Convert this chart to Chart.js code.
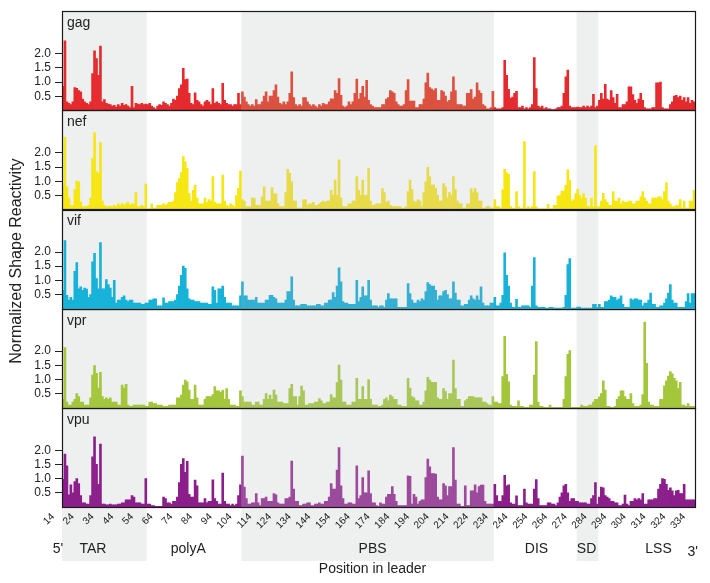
<!DOCTYPE html>
<html><head><meta charset="utf-8">
<script src="https://cdn.jsdelivr.net/npm/chart.js@4.4.1/dist/chart.umd.min.js"></script>
<style>html,body{margin:0;padding:0;background:#fff}canvas{display:block}</style>
</head><body>
<canvas id="c" width="710" height="583"></canvas>
<script>
// ---------- data ----------
const START = 14, END = 334;
const tickLabels = [14,24,34,44,54,64,74,84,94,104,114,124,134,144,154,164,174,184,194,204,214,224,234,244,254,264,274,284,294,304,314,324,334];
const yTickValues = [0.5, 1.0, 1.5, 2.0];
const panelNames = ['gag','nef','vif','vpr','vpu'];

const gag = [
0.85,2.45,0.3,0.25,0.2,0.3,0.8,0.78,0.7,0.65,
0.4,0.3,0.25,0.2,0.3,1.3,2.1,1.83,1.24,2.27,
0.3,0.38,0.25,0.22,0.2,0.15,0.18,0.12,0.2,0.15,
0.25,0.18,0.2,0.15,0.1,0.85,0.1,0.25,0.22,0.2,
0.25,0.2,0.22,0.2,0.25,0.15,0.1,0.05,0.15,0.2,
0.18,0.3,0.25,0.2,0.15,0.25,0.4,0.35,0.5,0.77,
0.9,1.48,1.09,1.1,0.6,0.25,0.2,0.62,0.35,0.3,
0.2,0.15,0.3,0.35,0.3,0.2,0.77,0.25,0.3,0.25,
0.2,0.95,0.35,0.25,0.2,0.2,0.15,0.2,0.2,0.6,
0.2,0.65,0.47,0.3,0.2,0.15,0.2,0.15,0.38,0.2,
0.2,0.3,0.5,0.65,0.3,0.5,0.5,0.7,0.9,0.47,
0.25,0.2,0.3,0.2,0.3,0.6,1.36,0.45,0.2,0.15,
0.2,0.15,0.45,0.45,0.3,0.2,0.15,0.2,0.15,0.1,
0.2,0.15,0.25,0.2,0.2,0.3,0.41,0.4,0.7,0.6,
1.12,0.53,0.15,0.1,0.15,0.3,0.2,0.3,0.6,1.1,
0.4,0.6,0.85,0.47,1.06,0.35,0.2,0.15,0.1,0.1,
0.1,0.1,0.2,0.2,0.4,0.45,0.7,0.65,0.6,0.3,
0.2,0.15,0.15,0.2,0.7,1.09,0.33,0.33,0.33,0.1,
0.1,0.2,0.2,0.4,0.97,1.32,0.8,0.75,0.7,0.77,
0.35,0.35,0.7,0.65,0.5,0.3,0.35,0.65,1.18,0.7,
0.2,0.2,0.2,0.15,0.15,0.6,0.6,0.73,0.4,0.47,
0.97,0.7,0.6,0.2,0.15,0.05,0.05,0.1,0.67,0.1,
0.05,0.05,0.05,0.1,1.77,1.24,0.74,0.43,0.47,0.6,
0.67,0.1,0.1,0.15,0.05,0.1,0.05,0.1,0.2,1.86,
0.77,0.15,0.1,0.15,0.05,0.1,0.05,0.05,0.03,0.03,
0.05,0.1,0.1,0.15,0.6,1.18,1.42,0.15,0.1,0.1,
0.1,0.12,0.1,0.1,0.15,0.1,0.15,0.1,0.15,0.57,
0.1,0.15,0.35,0.6,0.4,0.92,0.4,0.35,0.7,0.45,
0.25,0.57,0.1,0.1,0.2,0.2,0.3,0.83,0.83,0.56,
0.35,0.25,0.4,0.6,0.35,0.1,0.05,0.05,0.05,0.1,
0.1,0.97,0.97,1.0,0.1,0.05,0.05,0.05,0.2,0.3,
0.5,0.53,0.45,0.5,0.35,0.45,0.3,0.45,0.25,0.35,
0.3];

const nef = [
0.83,2.55,0.8,0.4,0.15,0.15,0.7,1.0,0.98,0.27,
0.1,0.1,0.1,0.15,0.4,1.8,2.72,1.33,1.28,2.36,
0.3,0.15,0.1,0.1,0.12,0.1,0.15,0.1,0.2,0.15,
0.2,0.15,0.2,0.25,0.15,0.2,0.2,0.6,0.1,0.1,
0.15,0.1,0.9,0.02,0.02,0.2,0.05,0.05,0.15,0.15,
0.15,0.2,0.15,0.2,0.25,0.25,0.3,0.6,0.95,1.1,
1.3,1.87,1.69,1.45,0.57,0.3,0.68,0.86,0.4,0.2,
0.2,0.2,0.4,0.25,0.35,0.3,1.16,0.25,0.2,0.2,
0.2,1.22,0.3,0.15,0.1,0.2,0.15,0.1,0.5,0.75,
1.36,0.35,0.3,0.1,0.1,0.1,0.4,0.4,0.15,0.15,
0.15,0.45,0.8,0.3,0.3,0.3,0.77,0.55,0.55,0.2,
0.1,0.1,0.1,0.6,1.42,1.28,0.98,0.3,0.3,0.05,
0.05,0.05,0.35,0.35,0.15,0.2,0.2,0.25,0.15,0.15,
0.2,0.25,0.3,0.25,0.3,0.3,0.68,0.5,1.04,0.5,
1.75,0.4,0.1,0.1,0.1,0.2,0.2,0.3,0.3,1.16,
0.68,0.5,1.04,0.5,0.5,1.45,0.3,0.15,0.15,0.2,
0.2,0.2,0.74,0.6,0.25,0.3,0.15,0.1,0.1,0.1,
0.1,0.1,0.05,0.05,0.1,0.63,1.04,0.7,0.3,0.25,
0.35,0.3,0.1,0.6,0.98,1.49,1.16,0.86,0.86,0.75,
0.5,0.3,0.3,0.92,0.8,0.4,0.6,0.5,1.16,0.7,
0.3,0.2,0.2,0.05,0.05,0.2,0.2,0.74,0.6,0.74,
0.59,0.3,0.3,0.05,0.05,0.1,0.1,0.05,0.05,0.35,
0.1,0.1,0.05,0.7,1.42,1.3,1.24,0.1,0.05,0.05,
0.63,0.1,0.05,0.05,2.4,0.05,0.1,0.05,0.1,1.34,
0.1,0.02,0.02,0.02,0.02,0.02,0.18,0.02,0.02,0.15,
0.15,0.47,0.5,0.65,0.65,0.86,1.4,1.04,0.3,0.35,
0.55,0.72,0.5,0.4,0.55,0.4,0.1,0.1,0.4,0.1,
2.25,0.1,0.1,0.3,0.57,0.35,0.25,0.15,0.15,0.63,
0.3,0.3,0.4,0.2,0.3,0.25,0.25,0.3,0.3,0.2,
0.2,0.3,0.3,0.45,0.63,0.4,0.3,0.2,0.2,0.4,
0.4,0.4,0.45,0.45,0.35,0.63,0.95,0.3,0.2,0.1,
0.1,0.15,0.15,0.35,0.05,0.3,0.05,0.05,0.3,0.3,
0.68];

const vif = [
0.65,2.4,0.47,0.3,0.4,0.3,1.32,1.63,0.7,0.77,
0.65,0.73,0.69,0.4,0.5,1.65,1.95,1.06,0.7,2.33,
0.7,0.7,1.03,0.85,0.73,0.4,1.0,0.2,0.3,0.3,
0.4,0.45,0.3,0.25,0.3,0.3,0.2,0.2,0.2,0.2,
0.15,0.15,0.2,0.2,0.3,0.3,0.35,0.35,0.1,0.1,
0.1,0.38,0.2,0.2,0.25,0.25,0.25,0.3,0.5,0.8,
1.18,1.5,1.42,0.7,0.35,0.3,0.3,0.25,0.25,0.25,
0.2,0.2,0.2,0.2,0.15,0.15,0.77,0.65,0.2,0.7,
0.7,0.8,0.4,0.2,0.2,0.2,0.1,0.1,0.1,0.1,
0.45,0.95,0.45,0.45,0.3,0.3,0.3,0.3,0.4,0.2,
0.2,0.2,0.2,0.3,0.3,0.47,0.47,0.4,0.35,0.2,
0.2,0.2,0.2,0.3,0.6,0.6,1.12,0.3,0.1,0.1,
0.1,0.15,0.15,0.15,0.1,0.1,0.1,0.1,0.1,0.15,
0.15,0.1,0.1,0.2,0.2,0.3,0.3,0.57,0.4,0.8,
1.44,0.95,0.25,0.2,0.2,0.15,0.15,0.15,0.15,1.0,
0.25,0.4,0.77,0.45,0.45,1.0,0.3,0.1,0.1,0.1,
0.05,0.1,0.1,0.05,0.3,0.53,0.35,0.35,0.35,0.35,
0.05,0.05,0.05,0.05,0.05,0.89,0.53,0.3,0.2,0.2,
0.3,0.25,0.35,0.3,0.6,0.92,0.85,0.8,0.8,0.65,
0.3,0.45,0.45,0.6,0.65,0.5,0.35,0.35,0.95,0.55,
0.3,0.3,0.1,0.1,0.15,0.15,0.3,0.45,0.35,0.3,
0.45,0.3,0.77,0.2,0.1,0.1,0.1,0.2,0.2,0.4,
0.1,0.1,0.2,0.47,1.97,1.18,0.8,0.2,0.05,0.05,
0.33,0.05,0.05,0.1,0.1,0.1,0.1,0.05,0.8,1.8,
0.1,0.05,0.05,0.05,0.05,0.02,0.02,0.05,0.05,0.02,
0.02,0.02,0.02,0.02,0.05,0.47,1.56,1.77,0.02,0.02,
0.02,0.06,0.06,0.02,0.02,0.02,0.02,0.02,0.02,0.15,
0.15,0.05,0.15,0.05,0.05,0.25,0.25,0.3,0.45,0.4,
0.4,0.3,0.35,0.45,0.15,0.05,0.05,0.05,0.35,0.3,
0.35,0.35,0.3,0.3,0.1,0.2,0.2,0.3,0.55,0.15,
0.15,0.05,0.05,0.1,0.1,0.2,0.35,0.55,0.85,0.3,
0.2,0.2,0.05,0.05,0.05,0.05,0.25,0.53,0.2,0.53,
0.53];

const vpr = [
0.3,2.13,0.2,0.1,0.1,0.2,0.3,0.5,0.4,0.2,
0.2,0.1,0.1,0.1,0.35,1.16,1.49,1.22,0.7,1.25,
0.4,0.3,0.35,0.3,0.35,0.2,0.2,0.2,0.1,0.1,
0.8,0.7,0.83,0.1,0.05,0.05,0.1,0.1,0.1,0.1,
0.1,0.1,0.05,0.05,0.2,0.2,0.15,0.15,0.1,0.1,
0.1,0.05,0.05,0.05,0.1,0.1,0.1,0.1,0.35,0.35,
0.45,0.8,0.98,0.92,0.63,0.3,0.3,0.8,0.35,0.1,
0.1,0.1,0.3,0.4,0.4,0.4,0.47,0.75,0.6,0.6,
0.55,0.63,0.3,0.68,0.3,0.1,0.1,0.1,0.05,0.05,
0.6,0.4,0.2,0.2,0.2,0.2,0.1,0.1,0.2,0.2,
0.1,0.1,0.3,0.5,0.3,0.45,0.3,0.63,0.45,0.2,
0.2,0.2,0.15,0.15,0.15,0.68,0.83,0.4,0.4,0.1,
0.4,0.77,0.6,0.1,0.1,0.15,0.15,0.15,0.2,0.2,
0.33,0.25,0.15,0.15,0.2,0.2,0.47,0.35,0.35,0.89,
1.51,0.98,0.2,0.2,0.1,0.1,0.1,0.2,0.2,1.04,
0.3,0.3,0.75,0.3,0.3,1.0,0.3,0.1,0.1,0.1,
0.05,0.05,0.1,0.3,0.35,0.25,0.45,0.4,0.3,0.3,
0.1,0.1,0.05,0.05,0.05,1.04,0.7,0.4,0.35,0.25,
0.25,0.1,0.1,0.2,0.6,1.08,0.98,0.9,0.9,0.9,
0.35,0.3,0.3,0.68,0.57,0.3,0.5,0.5,1.69,0.68,
0.3,0.3,0.05,0.05,0.25,0.3,0.4,0.4,0.4,0.35,
0.35,0.35,0.35,0.2,0.2,0.15,0.1,0.1,0.4,0.2,
0.2,0.15,0.15,1.1,2.52,1.18,0.92,0.1,0.05,0.05,
0.05,0.25,0.05,0.05,0.02,0.02,0.02,0.1,0.1,1.16,
2.34,0.2,0.05,0.05,0.02,0.02,0.02,0.1,0.02,0.02,
0.02,0.02,0.02,0.02,0.3,1.1,1.89,2.02,0.02,0.02,
0.02,0.02,0.02,0.1,0.05,0.05,0.05,0.1,0.1,0.2,
0.3,0.3,0.39,0.5,0.95,0.63,0.05,0.05,0.02,0.02,
0.05,0.3,0.4,0.6,0.6,0.4,0.3,0.3,0.5,0.15,
0.05,0.05,0.05,0.1,0.47,3.03,1.57,0.2,0.1,0.1,
0.05,0.05,0.05,0.3,0.3,0.78,0.95,1.12,1.28,1.2,
1.04,0.95,0.68,0.9,0.1,0.1,0.05,0.15,0.05,0.05,
0.05];

const vpu = [
0.98,1.87,1.45,0.43,0.78,0.5,0.9,1.0,0.83,0.4,
0.15,0.15,0.1,0.1,0.4,1.77,2.48,1.51,0.8,2.22,
0.1,0.1,0.08,0.08,0.1,0.08,0.08,0.08,0.1,0.1,
0.15,0.15,0.25,0.25,0.25,0.4,0.35,0.15,0.15,0.15,
0.1,0.1,1.0,0.1,0.1,0.05,0.05,0.02,0.02,0.02,
0.02,0.35,0.3,0.15,0.15,0.1,0.2,0.2,0.35,0.86,
1.51,1.71,1.22,1.61,0.45,0.35,0.35,0.95,0.75,0.15,
0.15,0.15,0.3,0.15,0.2,0.2,0.96,0.3,0.2,0.1,
0.1,1.2,0.2,0.1,0.1,0.05,0.1,0.05,0.1,0.4,
0.78,1.8,0.7,0.3,0.1,0.1,0.15,0.15,0.47,0.15,
0.05,0.3,0.3,0.35,0.2,0.2,0.2,0.47,0.43,0.15,
0.1,0.1,0.1,0.3,0.3,0.35,1.62,0.63,0.2,0.2,
0.05,0.05,0.1,0.1,0.15,0.15,0.05,0.05,0.1,0.1,
0.15,0.1,0.1,0.2,0.2,0.35,0.83,0.63,0.63,1.3,
2.1,0.75,0.3,0.1,0.1,0.15,0.15,0.1,0.1,1.45,
0.3,0.4,1.04,0.5,0.5,1.28,0.47,0.15,0.15,0.05,
0.02,0.15,0.1,0.1,0.35,0.45,0.45,0.72,0.45,0.2,
0.05,0.05,0.05,0.05,0.05,1.1,1.08,0.1,0.45,0.35,
0.1,0.2,0.25,0.25,1.04,1.69,1.42,1.18,1.18,1.16,
0.35,0.25,0.25,0.83,0.75,0.4,0.72,0.72,2.1,0.95,
0.1,0.1,0.02,0.02,0.75,0.05,0.05,0.57,0.57,0.78,
0.5,0.72,0.77,0.77,0.2,0.1,0.1,0.1,0.1,0.8,
0.4,0.2,0.2,0.4,1.12,0.75,0.78,0.15,0.1,0.1,
0.39,0.05,0.05,0.05,0.63,0.15,0.1,0.1,0.1,0.63,
0.97,0.3,0.05,0.05,0.05,0.05,0.15,0.15,0.1,0.1,
0.05,0.15,0.35,0.5,0.75,0.8,0.5,0.2,0.3,0.3,
0.2,0.2,0.15,0.15,0.15,0.15,0.1,0.1,0.3,0.4,
0.86,0.1,0.35,0.7,0.68,0.4,0.35,0.3,0.2,0.2,
0.15,0.15,0.05,0.05,0.1,0.42,0.1,0.05,0.2,0.2,
0.3,0.25,0.3,0.25,0.47,0.1,0.1,0.25,0.25,0.25,
0.3,0.3,0.63,0.8,1.0,0.98,0.8,0.59,0.68,0.57,
0.4,0.57,0.59,0.47,0.47,0.8,0.25,0.25,0.25,0.25,
0.25];

// leader regions (position units) and labels
const shadeStarts = [13.5, 104.5, 274.5];
const shadeEnds   = [56.5, 232.5, 285.5];
const regionNames   = ["5'", 'TAR', 'polyA', 'PBS', 'DIS', 'SD', 'LSS', "3'"];
const regionCenters = [11.5, 29.2, 77.5, 171, 254.1, 279.5, 316, 333.3];
const pbsRange = [105, 232];

// ---------- styles ----------
const FONT = '"Liberation Sans", Arial, Helvetica, sans-serif';
const SHADE = '#eeefef';
const colors    = ['#e52a2e', '#f6e714', '#17b2d8', '#a3c63b', '#8b1e8a'];
const pbsColors = ['#dc513f', '#e8db4b', '#35b0d2', '#a9c759', '#9c4a9c'];
const seriesData = [gag, nef, vif, vpr, vpu];

const positions = [];
for (let p = START; p <= END; p++) positions.push(String(p));
seriesData.forEach((d, k) => { if (d.length !== positions.length) throw new Error(panelNames[k] + ' length ' + d.length); });

Chart.defaults.font.family = FONT;
Chart.defaults.color = '#222';

const scales = {
  x: {
    type: 'category', labels: positions, offset: true,
    grid: { display: false, drawTicks: false }, border: { display: false },
    ticks: {
      autoSkip: false, minRotation: 45, maxRotation: 45, padding: 4, labelOffset: -10,
      font: { size: 10 }, color: '#222',
      callback: function (v, i) { const p = START + i; return tickLabels.includes(p) ? String(p) : ''; }
    },
    afterFit: s => { s.height = 76; }
  }
};
for (let k = seriesData.length - 1; k >= 0; k--) {
  scales['y' + k] = {
    type: 'linear', position: 'left', stack: 'panels', stackWeight: 1,
    min: 0, max: 3.5,
    afterBuildTicks: s => { s.ticks = yTickValues.map(v => ({ value: v })); },
    afterFit: s => { s.width = 62; },
    grid: { display: true, drawOnChartArea: false, drawTicks: true, tickLength: 7, color: '#222', lineWidth: 1 },
    border: { display: false },
    ticks: { font: { size: 12 }, color: '#222', padding: 4, callback: v => Number(v).toFixed(1) }
  };
}

const inPBS = i => (START + i) >= pbsRange[0] && (START + i) <= pbsRange[1];

const decor = {
  id: 'decor',
  beforeDraw(chart) {
    const { ctx, chartArea: a, scales: { x } } = chart;
    ctx.save();
    ctx.fillStyle = '#fff';
    ctx.fillRect(0, 0, chart.width, chart.height);
    ctx.fillStyle = SHADE;
    shadeStarts.forEach((s, j) => {
      const x0 = x.getPixelForValue(s - START), x1 = x.getPixelForValue(shadeEnds[j] - START);
      ctx.fillRect(x0, a.top, x1 - x0, a.bottom + 54 - a.top);
    });
    ctx.restore();
  },
  afterDatasetsDraw(chart) {
    const { ctx, chartArea: a } = chart;
    ctx.save();
    ctx.strokeStyle = '#1a1a1a';
    ctx.lineWidth = 1.2;
    ctx.font = '14px ' + FONT;
    ctx.textBaseline = 'top';
    ctx.textAlign = 'left';
    panelNames.forEach((n, k) => {
      const s = chart.scales['y' + k];
      ctx.strokeRect(Math.round(a.left) + 0.5, Math.round(s.top) + 0.5, Math.round(a.right - a.left), Math.round(s.bottom - s.top));
      ctx.fillStyle = '#222';
      ctx.fillText(n, a.left + 5, s.top + 5);
    });
    ctx.restore();
  },
  afterDraw(chart) {
    const { ctx, chartArea: a, scales: { x } } = chart;
    ctx.save();
    ctx.fillStyle = '#222';
    ctx.font = '14px ' + FONT;
    ctx.textAlign = 'center';
    ctx.textBaseline = 'middle';
    regionNames.forEach((n, j) => {
      const px = x.getPixelForValue(regionCenters[j] - START);
      ctx.fillText(n, px, a.bottom + (j === regionNames.length - 1 ? 45 : 42));
    });
    ctx.fillText('Position in leader', (a.left + a.right) / 2 - 6, a.bottom + 62);
    ctx.font = '16px ' + FONT;
    ctx.translate(17, (a.top + a.bottom) / 2 + 2);
    ctx.rotate(-Math.PI / 2);
    ctx.fillText('Normalized Shape Reactivity', 0, 0);
    ctx.restore();
  }
};

new Chart(document.getElementById('c'), {
  type: 'bar',
  data: {
    labels: positions,
    datasets: seriesData.map((d, k) => ({
      label: panelNames[k], data: d, yAxisID: 'y' + k, xAxisID: 'x',
      backgroundColor: ctx => inPBS(ctx.dataIndex) ? pbsColors[k] : colors[k],
      borderWidth: 0, barPercentage: 1, categoryPercentage: 1, grouped: false
    }))
  },
  options: {
    responsive: false, animation: false, devicePixelRatio: 1,
    layout: { padding: { top: 10, right: 15, bottom: 0, left: 0 } },
    plugins: { legend: { display: false }, tooltip: { enabled: false } },
    scales
  },
  plugins: [decor]
});
</script>
</body></html>
